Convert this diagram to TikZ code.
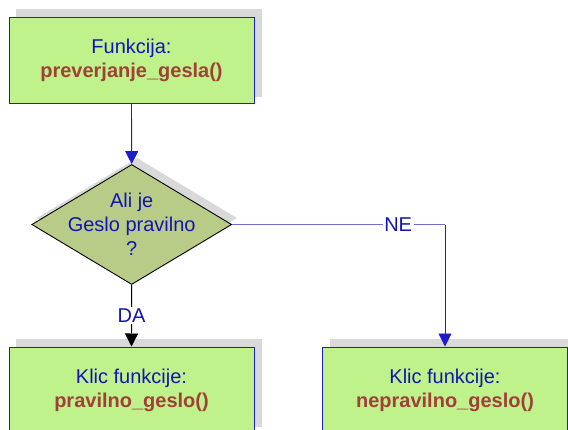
\documentclass[tikz,border=0pt]{standalone}
\usepackage{fontspec}
\setmainfont{Liberation Sans}
\usetikzlibrary{shapes.geometric,arrows.meta}

\definecolor{boxgreen}{RGB}{192,242,140}
\definecolor{diagreen}{RGB}{184,204,136}
\definecolor{shadowgray}{RGB}{217,217,217}
\definecolor{textblue}{RGB}{20,20,180}
\definecolor{funcred}{RGB}{160,64,56}
\definecolor{edgeblue}{RGB}{30,30,200}
\definecolor{paleblue}{RGB}{110,110,210}

\tikzset{
  procbox/.style={draw=edgeblue, line width=1pt, fill=boxgreen,
    minimum width=245pt, minimum height=86pt, inner sep=0pt,
    align=center, font=\fontsize{20}{24}\selectfont},
  decision/.style={diamond, draw=black, line width=0.9pt, fill=diagreen,
    minimum width=200pt, minimum height=120pt, inner sep=0pt},
  dectext/.style={align=center, text=textblue, font=\fontsize{20}{24}\selectfont},
  branchlabel/.style={fill=white, inner sep=1.5pt, text=textblue,
    font=\fontsize{20}{24}\selectfont},
  shadowfill/.style={fill=shadowgray},
  flow/.style={line width=0.9pt, -{Triangle[width=13pt,length=13pt]}},
  fname/.style={text=funcred, font=\fontsize{20}{24}\selectfont\bfseries}
}

\begin{document}
\begin{tikzpicture}[x=1pt,y=-1pt]
\useasboundingbox (0,0) rectangle (568,429);
\clip (0,0) rectangle (568,429);

% drop shadows behind the shapes
\fill[shadowfill] (16,9) rectangle (262,97);
\fill[shadowfill] (16,339) rectangle (262,427);
\fill[shadowfill] (330,339) rectangle (580,427);
\fill[shadowfill] (137,158) -- (237,218) -- (137,278) -- (37,218) -- cycle;

% process boxes
\node[procbox] (start) at (131.5,60)
  {\textcolor{textblue}{Funkcija:}\\{\bfseries\textcolor{funcred}{preverjanje\_gesla()}}};
\node[procbox] (ok) at (131.5,390)
  {\textcolor{textblue}{Klic funkcije:}\\{\bfseries\textcolor{funcred}{pravilno\_geslo()}}};
\node[procbox] (bad) at (445,390)
  {\textcolor{textblue}{Klic funkcije:}\\{\bfseries\textcolor{funcred}{nepravilno\_geslo()}}};

% decision
\node[decision] (check) at (131.7,224.5) {};
\node[dectext] at (check.center) {Ali je\\Geslo pravilno\\?};

% connectors
\draw[flow, edgeblue] (start.south) -- (check.north);
\draw[flow, black] (check.south) -- node[branchlabel] {DA} (ok.north);
\coordinate (turn) at (445,224.5);
\draw[paleblue, line width=0.9pt] (check.east) -- node[branchlabel, pos=0.78] {NE} (turn);
\draw[flow, edgeblue] (turn) -- (bad.north);
\end{tikzpicture}
\end{document}
